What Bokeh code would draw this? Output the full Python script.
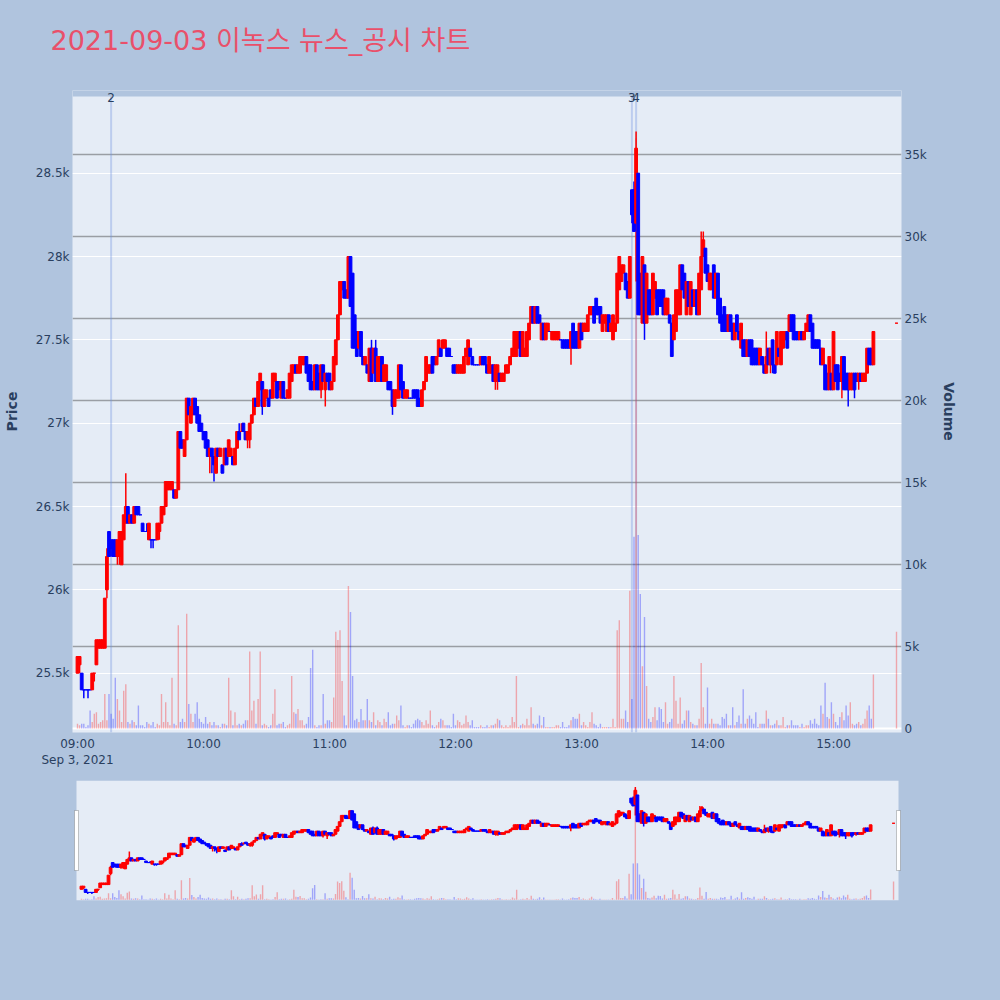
import math
import pandas as pd
from bokeh.plotting import figure
from bokeh.models import (Range1d, LinearAxis, FixedTicker, NumeralTickFormatter,
                          DatetimeTickFormatter, Grid, Span, Label, BoxAnnotation,
                          ColumnDataSource)
from bokeh.layouts import column
from bokeh.embed import file_html
from bokeh.resources import INLINE

TITLE = "2021-09-03 이녹스 뉴스_공시 차트"
SESSION_START = "2021-09-03 09:00"
N_REGULAR = 380
CLOSING_AUCTION = "2021-09-03 15:30"

opens = [
    25500, 25550, 25500, 25400, 25400, 25400, 25400, 25400, 25500, 25550,
    25650, 25650, 25650, 25650, 26000, 26350, 26300, 26300, 26300, 26200,
    26200, 26150, 26300, 26400, 26500, 26400, 26450, 26400, 26500, 26500,
    26450, 26400, 26350, 26350, 26300, 26300, 26300, 26300, 26300, 26350,
    26400, 26450, 26500, 26600, 26600, 26600, 26600, 26550, 26600, 26950,
    26900, 26800, 26900, 27150, 27000, 27050, 27150, 27100, 27050, 27000,
    26950, 26950, 26900, 26800, 26850, 26800, 26700, 26850, 26800, 26750,
    26750, 26850, 26800, 26800, 26800, 26750, 26850, 26950, 26950, 27000,
    26950, 26900, 26900, 27000, 27050, 27150, 27100, 27200, 27250, 27100,
    27150, 27150, 27200, 27150, 27250, 27250, 27250, 27150, 27250, 27150,
    27150, 27150, 27250, 27300, 27350, 27300, 27300, 27350, 27350, 27400,
    27350, 27350, 27250, 27200, 27350, 27300, 27200, 27350, 27200, 27300,
    27300, 27200, 27250, 27350, 27500, 27650, 27800, 27850, 27800, 27750,
    28000, 27900, 27650, 27550, 27450, 27550, 27400, 27350, 27350, 27250,
    27450, 27300, 27450, 27250, 27250, 27400, 27250, 27250, 27250, 27250,
    27200, 27100, 27150, 27150, 27350, 27250, 27150, 27150, 27150, 27150,
    27200, 27200, 27200, 27150, 27100, 27200, 27250, 27300, 27300, 27400,
    27400, 27350, 27400, 27450, 27450, 27450, 27450, 27450, 27400, 27350,
    27350, 27300, 27300, 27300, 27300, 27400, 27350, 27450, 27400, 27350,
    27350, 27350, 27350, 27400, 27400, 27350, 27300, 27300, 27350, 27250,
    27250, 27300, 27250, 27250, 27300, 27300, 27350, 27400, 27400, 27400,
    27450, 27550, 27400, 27400, 27400, 27500, 27600, 27700, 27600, 27700,
    27650, 27500, 27600, 27500, 27550, 27550, 27500, 27500, 27500, 27500,
    27500, 27500, 27500, 27500, 27500, 27450, 27600, 27550, 27550, 27450,
    27600, 27550, 27550, 27550, 27650, 27650, 27700, 27750, 27700, 27700,
    27550, 27600, 27550, 27650, 27550, 27500, 27550, 27600, 27800, 27850,
    27900, 27900, 27850, 27750, 28400, 28400, 28200, 28500, 27900, 27600,
    27950, 27600, 27800, 27800, 27650, 27750, 27800, 27800, 27800, 27800,
    27650, 27650, 27650, 27600, 27500, 27550, 27650, 27650, 27950, 27900,
    27650, 27850, 27650, 27800, 27700, 27800, 27650, 27800, 28000, 28050,
    27950, 27800, 27800, 27950, 27750, 27900, 27750, 27650, 27700, 27650,
    27550, 27650, 27600, 27500, 27650, 27550, 27450, 27500, 27500, 27400,
    27500, 27500, 27450, 27450, 27450, 27350, 27400, 27350, 27300, 27450,
    27350, 27500, 27350, 27350, 27450, 27350, 27450, 27500, 27550, 27550,
    27650, 27650, 27550, 27550, 27500, 27550, 27500, 27550, 27550, 27650,
    27600, 27500, 27500, 27500, 27450, 27350, 27350, 27300, 27200, 27300,
    27200, 27350, 27350, 27300, 27250, 27400, 27300, 27300, 27200, 27200,
    27300, 27300, 27250, 27300, 27250, 27250, 27300, 27450, 27450, 27350,
    27600,
]
highs = [
    25600, 25600, 25500, 25400, 25400, 25400, 25400, 25500, 25500, 25700,
    25700, 25700, 25700, 25950, 26250, 26350, 26300, 26300, 26300, 26300,
    26350, 26350, 26450, 26700, 26500, 26450, 26450, 26500, 26500, 26500,
    26450, 26400, 26350, 26400, 26400, 26300, 26300, 26300, 26400, 26400,
    26500, 26500, 26650, 26650, 26650, 26650, 26600, 26600, 26950, 26950,
    26900, 26900, 27150, 27150, 27100, 27150, 27150, 27100, 27050, 27000,
    26950, 26950, 26900, 26850, 26850, 26800, 26850, 26850, 26850, 26750,
    26850, 26850, 26900, 26850, 26800, 26850, 26950, 27000, 27000, 27000,
    26950, 26950, 27000, 27050, 27150, 27150, 27250, 27300, 27250, 27200,
    27200, 27150, 27200, 27300, 27300, 27250, 27250, 27250, 27250, 27150,
    27200, 27300, 27350, 27350, 27350, 27350, 27400, 27400, 27400, 27400,
    27350, 27350, 27250, 27350, 27350, 27300, 27350, 27350, 27300, 27300,
    27300, 27250, 27400, 27500, 27650, 27850, 27850, 27850, 27800, 28000,
    28000, 27900, 27650, 27550, 27550, 27550, 27400, 27400, 27350, 27450,
    27500, 27450, 27500, 27400, 27400, 27400, 27350, 27350, 27250, 27250,
    27200, 27200, 27200, 27350, 27350, 27250, 27200, 27200, 27150, 27150,
    27200, 27200, 27200, 27150, 27200, 27250, 27400, 27350, 27350, 27400,
    27400, 27400, 27500, 27450, 27500, 27500, 27450, 27450, 27400, 27350,
    27350, 27350, 27350, 27350, 27400, 27450, 27500, 27450, 27400, 27350,
    27350, 27350, 27400, 27400, 27400, 27350, 27400, 27350, 27350, 27350,
    27350, 27300, 27300, 27300, 27350, 27350, 27400, 27450, 27550, 27550,
    27550, 27550, 27550, 27450, 27550, 27600, 27700, 27700, 27700, 27700,
    27650, 27600, 27600, 27600, 27600, 27550, 27550, 27550, 27550, 27550,
    27500, 27500, 27500, 27500, 27500, 27550, 27600, 27550, 27550, 27600,
    27600, 27600, 27600, 27650, 27700, 27700, 27700, 27750, 27700, 27700,
    27650, 27650, 27650, 27650, 27600, 27650, 27600, 27900, 28000, 27950,
    27950, 27900, 27850, 28000, 28400, 28450, 28750, 28500, 27900, 28000,
    27950, 27900, 27800, 27800, 27900, 27850, 27800, 27800, 27800, 27800,
    27750, 27750, 27650, 27600, 27650, 27800, 27800, 27950, 27950, 27900,
    27850, 27850, 27850, 27800, 27800, 27800, 27900, 28150, 28150, 28050,
    27950, 27900, 27900, 27950, 27900, 27900, 27750, 27650, 27700, 27650,
    27650, 27650, 27600, 27600, 27650, 27550, 27600, 27500, 27500, 27500,
    27500, 27500, 27450, 27450, 27450, 27450, 27400, 27350, 27550, 27450,
    27450, 27500, 27350, 27550, 27450, 27550, 27550, 27550, 27550, 27650,
    27650, 27650, 27550, 27550, 27550, 27550, 27550, 27600, 27650, 27650,
    27600, 27500, 27500, 27500, 27450, 27450, 27350, 27300, 27400, 27300,
    27550, 27350, 27350, 27300, 27400, 27400, 27300, 27300, 27300, 27300,
    27300, 27300, 27300, 27300, 27300, 27300, 27450, 27450, 27450, 27550,
    27600,
]
lows = [
    25500, 25500, 25400, 25350, 25400, 25350, 25400, 25400, 25450, 25550,
    25650, 25650, 25650, 25650, 25950, 26200, 26200, 26200, 26200, 26150,
    26150, 26150, 26300, 26400, 26400, 26400, 26400, 26400, 26450, 26450,
    26450, 26350, 26350, 26350, 26300, 26250, 26250, 26300, 26300, 26300,
    26400, 26450, 26500, 26600, 26600, 26600, 26550, 26550, 26600, 26850,
    26850, 26800, 26900, 27050, 27000, 27050, 27050, 27000, 26950, 26950,
    26900, 26850, 26800, 26700, 26700, 26650, 26700, 26800, 26800, 26700,
    26750, 26750, 26800, 26800, 26750, 26750, 26850, 26900, 26950, 26950,
    26900, 26850, 26850, 27000, 27050, 27100, 27100, 27200, 27050, 27100,
    27150, 27100, 27150, 27150, 27250, 27150, 27200, 27150, 27150, 27150,
    27150, 27150, 27250, 27300, 27300, 27300, 27300, 27350, 27350, 27300,
    27250, 27200, 27200, 27200, 27200, 27200, 27150, 27250, 27100, 27250,
    27200, 27200, 27250, 27350, 27500, 27650, 27800, 27750, 27750, 27750,
    27700, 27450, 27450, 27400, 27450, 27400, 27350, 27350, 27300, 27250,
    27250, 27300, 27250, 27250, 27250, 27250, 27250, 27250, 27200, 27200,
    27050, 27100, 27150, 27150, 27200, 27150, 27150, 27150, 27150, 27150,
    27150, 27150, 27100, 27100, 27100, 27200, 27250, 27300, 27300, 27300,
    27350, 27350, 27400, 27400, 27450, 27450, 27400, 27400, 27400, 27300,
    27300, 27300, 27300, 27300, 27300, 27400, 27350, 27400, 27350, 27350,
    27350, 27350, 27350, 27350, 27350, 27300, 27300, 27300, 27250, 27200,
    27200, 27250, 27250, 27250, 27300, 27300, 27350, 27400, 27400, 27400,
    27450, 27400, 27400, 27400, 27400, 27500, 27600, 27600, 27600, 27600,
    27600, 27500, 27500, 27500, 27550, 27550, 27500, 27500, 27500, 27500,
    27500, 27450, 27450, 27450, 27450, 27350, 27450, 27450, 27450, 27450,
    27500, 27550, 27550, 27550, 27650, 27650, 27600, 27650, 27650, 27600,
    27550, 27600, 27550, 27550, 27550, 27500, 27550, 27600, 27800, 27850,
    27900, 27800, 27750, 27750, 28200, 28150, 27850, 27650, 27650, 27600,
    27500, 27600, 27650, 27650, 27650, 27750, 27650, 27700, 27700, 27650,
    27650, 27650, 27600, 27400, 27500, 27550, 27650, 27650, 27800, 27750,
    27650, 27700, 27650, 27700, 27700, 27650, 27650, 27800, 28000, 27900,
    27850, 27800, 27800, 27750, 27750, 27650, 27600, 27550, 27550, 27550,
    27550, 27550, 27500, 27500, 27550, 27500, 27450, 27400, 27400, 27400,
    27400, 27350, 27350, 27350, 27350, 27350, 27350, 27300, 27300, 27350,
    27300, 27300, 27300, 27350, 27400, 27350, 27450, 27500, 27450, 27550,
    27550, 27500, 27500, 27500, 27500, 27500, 27500, 27550, 27550, 27550,
    27450, 27450, 27450, 27450, 27350, 27350, 27200, 27200, 27200, 27200,
    27200, 27250, 27200, 27250, 27150, 27200, 27200, 27100, 27200, 27200,
    27150, 27250, 27200, 27250, 27250, 27250, 27300, 27350, 27350, 27350,
    27600,
]
closes = [
    25600, 25600, 25400, 25400, 25400, 25400, 25400, 25500, 25500, 25700,
    25700, 25700, 25700, 25950, 26200, 26200, 26250, 26200, 26200, 26300,
    26350, 26350, 26450, 26500, 26400, 26450, 26400, 26500, 26450, 26450,
    26450, 26350, 26350, 26350, 26400, 26300, 26300, 26300, 26400, 26400,
    26500, 26500, 26650, 26650, 26650, 26650, 26550, 26600, 26950, 26850,
    26850, 26900, 27150, 27050, 27100, 27150, 27050, 27000, 26950, 26950,
    26900, 26850, 26800, 26850, 26800, 26750, 26850, 26800, 26850, 26700,
    26850, 26750, 26900, 26850, 26750, 26850, 26950, 26900, 26950, 26950,
    26900, 26950, 27000, 27050, 27150, 27100, 27250, 27300, 27100, 27200,
    27200, 27100, 27150, 27300, 27300, 27150, 27200, 27250, 27150, 27150,
    27200, 27300, 27350, 27350, 27300, 27350, 27400, 27400, 27400, 27300,
    27250, 27200, 27200, 27350, 27200, 27200, 27350, 27250, 27300, 27250,
    27200, 27250, 27400, 27500, 27650, 27850, 27850, 27750, 27750, 28000,
    27700, 27450, 27450, 27400, 27550, 27400, 27350, 27400, 27300, 27450,
    27250, 27450, 27250, 27400, 27400, 27250, 27350, 27350, 27200, 27200,
    27100, 27200, 27200, 27350, 27200, 27150, 27200, 27200, 27150, 27150,
    27150, 27150, 27100, 27100, 27200, 27250, 27400, 27350, 27350, 27300,
    27350, 27400, 27500, 27400, 27500, 27500, 27400, 27400, 27400, 27300,
    27300, 27350, 27350, 27350, 27400, 27450, 27500, 27400, 27350, 27350,
    27350, 27350, 27400, 27350, 27350, 27300, 27400, 27350, 27250, 27350,
    27350, 27250, 27300, 27300, 27350, 27350, 27400, 27450, 27550, 27550,
    27550, 27400, 27550, 27450, 27550, 27600, 27700, 27600, 27700, 27600,
    27600, 27600, 27500, 27600, 27600, 27550, 27550, 27550, 27550, 27550,
    27500, 27450, 27450, 27450, 27450, 27550, 27450, 27450, 27450, 27600,
    27500, 27600, 27600, 27650, 27700, 27700, 27600, 27650, 27650, 27600,
    27650, 27650, 27650, 27550, 27600, 27650, 27600, 27900, 28000, 27950,
    27950, 27800, 27750, 28000, 28250, 28150, 28650, 27650, 27650, 28000,
    27600, 27900, 27650, 27650, 27900, 27850, 27650, 27700, 27700, 27650,
    27750, 27750, 27600, 27400, 27650, 27800, 27800, 27950, 27800, 27750,
    27850, 27700, 27850, 27700, 27800, 27650, 27900, 28000, 28100, 27900,
    27850, 27900, 27900, 27750, 27900, 27650, 27600, 27550, 27550, 27550,
    27650, 27550, 27500, 27600, 27550, 27500, 27600, 27400, 27400, 27500,
    27400, 27350, 27350, 27350, 27350, 27450, 27350, 27300, 27400, 27350,
    27450, 27350, 27300, 27550, 27400, 27550, 27550, 27550, 27450, 27650,
    27550, 27500, 27500, 27500, 27550, 27500, 27550, 27600, 27650, 27550,
    27450, 27450, 27450, 27450, 27350, 27450, 27200, 27200, 27400, 27200,
    27550, 27250, 27200, 27250, 27400, 27200, 27200, 27200, 27300, 27300,
    27200, 27250, 27300, 27250, 27300, 27300, 27450, 27350, 27350, 27550,
    27600,
]
volumes = [
    300, 200, 300, 300, 100, 200, 1100, 400, 900, 1000,
    300, 400, 500, 2100, 500, 2100, 900, 600, 3100, 1800,
    1100, 400, 2300, 2700, 400, 300, 500, 400, 200, 1400,
    200, 200, 100, 400, 300, 200, 400, 100, 300, 200,
    2100, 400, 1600, 400, 200, 3100, 300, 200, 6300, 400,
    600, 400, 7000, 1500, 900, 400, 900, 1600, 600, 400,
    300, 700, 300, 400, 200, 400, 200, 200, 100, 300,
    300, 200, 3100, 1100, 200, 1000, 200, 300, 200, 300,
    500, 500, 4700, 1100, 1700, 300, 1800, 4700, 200, 300,
    200, 100, 200, 900, 2400, 200, 300, 300, 400, 100,
    200, 300, 3200, 1000, 900, 1200, 500, 500, 200, 300,
    700, 3700, 4800, 200, 100, 200, 200, 2100, 300, 500,
    500, 400, 1900, 5900, 5400, 6000, 2900, 800, 200, 8700,
    7100, 3200, 500, 600, 400, 1200, 500, 500, 1800, 500,
    400, 1000, 200, 500, 400, 200, 600, 400, 1000, 200,
    300, 300, 800, 500, 1400, 200, 100, 200, 200, 100,
    300, 500, 600, 500, 400, 200, 500, 300, 1100, 200,
    100, 200, 400, 600, 500, 200, 200, 200, 100, 900,
    200, 500, 400, 200, 300, 800, 400, 200, 500, 100,
    100, 100, 200, 100, 100, 200, 100, 200, 200, 300,
    600, 500, 200, 100, 200, 100, 200, 700, 400, 3200,
    100, 200, 300, 200, 600, 200, 1300, 300, 200, 300,
    800, 200, 700, 100, 100, 100, 100, 100, 200, 200,
    100, 400, 100, 100, 200, 500, 700, 600, 600, 900,
    200, 400, 200, 100, 400, 1000, 300, 200, 100, 300,
    100, 100, 100, 100, 100, 600, 100, 6000, 6600, 600,
    600, 1100, 400, 8400, 1800, 11700, 36000, 11800, 8200, 3800,
    6800, 2600, 600, 400, 700, 1300, 500, 1300, 1200, 400,
    1600, 300, 400, 600, 3200, 1700, 300, 1900, 300, 500,
    1100, 1100, 400, 300, 200, 200, 600, 4000, 1300, 300,
    2500, 300, 600, 300, 300, 300, 200, 700, 600, 900,
    200, 200, 1300, 200, 400, 800, 300, 2400, 300, 600,
    800, 600, 300, 1000, 100, 300, 300, 300, 1100, 600,
    200, 200, 300, 500, 200, 200, 700, 100, 200, 200,
    500, 200, 200, 200, 100, 300, 100, 200, 200, 500,
    300, 600, 300, 200, 1400, 900, 2800, 700, 600, 1600,
    900, 400, 200, 700, 1000, 500, 1400, 800, 1600, 300,
    200, 300, 400, 200, 300, 600, 1100, 1400, 600, 3300,
    5900,
]

news_times = ["2021-09-03 09:16", "2021-09-03 13:24", "2021-09-03 13:26"]
news_labels = ["2", "3", "4"]
price_ticks = [25500, 26000, 26500, 27000, 27500, 28000, 28500]
volume_ticks = [0, 5000, 10000, 15000, 20000, 25000, 30000, 35000]
hour_ticks = ["2021-09-03 09:00", "2021-09-03 10:00", "2021-09-03 11:00",
              "2021-09-03 12:00", "2021-09-03 13:00", "2021-09-03 14:00",
              "2021-09-03 15:00"]

n = len(opens)
assert len(highs) == n and len(lows) == n and len(closes) == n and len(volumes) == n, \
    (len(opens), len(highs), len(lows), len(closes), len(volumes))
assert n == N_REGULAR + 1

# ---- style / layout (page pixels; Bokeh page has no body margin) ----
PAGE_W = 1000
PAGE_BG = "#B0C4DE"
PLOT_BG = "#E5ECF6"
INC = "#FF0000"
DEC = "#0000FF"
TXT = "#2a3f5f"
FONT = "'DejaVu Sans', 'Noto Sans CJK KR', sans-serif"
TITLE_COLOR = "#E9506A"

TITLE_H = 90            # title strip height (page y 0..90)
FRAME_L, FRAME_R = 72, 901
PLOT_TOP, FRAME_B = 96, 732
MAIN_BOTTOM = 778
PX_PER_MIN = 2.1
P_AT_TOP, P_AT_BOT = 28960, 25144   # price at page y 96 and 732
V_AT_BOT, V_PER_PX = -240, 1000 / 16.4


def ms(ts):
    return pd.Timestamp(ts).value / 1e6


times = list(pd.date_range(SESSION_START, periods=N_REGULAR, freq="min")) + [pd.Timestamp(CLOSING_AUCTION)]

colors = []
prev_dir, prev_close = 1, None
for o, c in zip(opens, closes):
    if c > o:
        d = 1
    elif c < o:
        d = -1
    elif prev_close is not None and c > prev_close:
        d = 1
    elif prev_close is not None and c < prev_close:
        d = -1
    else:
        d = prev_dir
    colors.append(INC if d > 0 else DEC)
    prev_dir, prev_close = d, c

src = ColumnDataSource(dict(
    t=times, o=opens, h=highs, l=lows, c=closes, v=volumes, color=colors,
    top=[max(a, b) for a, b in zip(opens, closes)],
    bot=[min(a, b) for a, b in zip(opens, closes)],
))

pad_ms = 5 / PX_PER_MIN * 60000
T0 = ms(SESSION_START) - pad_ms
T1 = ms(CLOSING_AUCTION) + pad_ms

P_PER_PX = (P_AT_TOP - P_AT_BOT) / (FRAME_B - PLOT_TOP)


def price_at(py):
    return P_AT_TOP - (py - PLOT_TOP) * P_PER_PX


P_HI = price_at(TITLE_H)
P_LO = P_AT_BOT
V_LO = V_AT_BOT
V_HI = V_AT_BOT + (FRAME_B - TITLE_H) * V_PER_PX

# ---- title strip ----
pt = figure(width=PAGE_W, height=TITLE_H, x_range=Range1d(0, PAGE_W), y_range=Range1d(TITLE_H, 0),
            x_axis_location=None, y_axis_location=None, toolbar_location=None,
            output_backend="svg", min_border=0)
pt.frame_align = False
pt.background_fill_color = PAGE_BG
pt.border_fill_color = PAGE_BG
pt.outline_line_color = None
pt.grid.visible = False
pt.add_layout(Label(x=50, y=40, text=TITLE, text_align="left", text_baseline="middle",
                    text_font=FONT, text_font_size="27px", text_color=TITLE_COLOR))

# ---- main figure ----
p = figure(width=PAGE_W, height=MAIN_BOTTOM - TITLE_H, x_axis_type="datetime",
           x_range=Range1d(T0, T1), y_range=Range1d(P_LO, P_HI),
           toolbar_location=None, output_backend="svg",
           min_border_left=FRAME_L, min_border_right=PAGE_W - FRAME_R,
           min_border_top=0, min_border_bottom=MAIN_BOTTOM - FRAME_B)
p.background_fill_color = PLOT_BG
p.border_fill_color = PAGE_BG
p.outline_line_color = None
p.extra_y_ranges = {"vol": Range1d(V_LO, V_HI)}


def style_axis(ax, standoff):
    ax.axis_line_color = None
    ax.major_tick_line_color = None
    ax.minor_tick_line_color = None
    ax.major_tick_out = 0
    ax.major_tick_in = 0
    ax.major_label_standoff = standoff
    ax.major_label_text_font = FONT
    ax.major_label_text_font_size = "12px"
    ax.major_label_text_color = TXT
    ax.axis_label_text_font = FONT
    ax.axis_label_text_font_size = "14px"
    ax.axis_label_text_font_style = "bold"
    ax.axis_label_text_color = TXT


xa = p.xaxis[0]
xa.ticker = FixedTicker(ticks=[ms(t) for t in hour_ticks])
xa.formatter = DatetimeTickFormatter(hours="%H:%M", hourmin="%H:%M", minutes="%H:%M",
                                     days="%H:%M", context="%b %-d, %Y",
                                     context_which="start", context_location="below")
style_axis(xa, 4)

ya = p.yaxis[0]
ya.ticker = FixedTicker(ticks=price_ticks)
ya.formatter = NumeralTickFormatter(format="0.[0]a")
style_axis(ya, 3)
ya.axis_label = "Price"
ya.axis_label_standoff = 13

va = LinearAxis(y_range_name="vol", ticker=FixedTicker(ticks=volume_ticks),
                formatter=NumeralTickFormatter(format="0.[0]a"))
style_axis(va, 3)
va.axis_label = "Volume"
va.axis_label_standoff = 11
p.add_layout(va, "right")

p.xgrid.visible = False
p.ygrid.ticker = FixedTicker(ticks=price_ticks)
p.ygrid.grid_line_color = "white"
p.ygrid.grid_line_width = 1

vgrid = Grid(dimension=1, ticker=FixedTicker(ticks=volume_ticks[1:]), y_range_name="vol",
             grid_line_color="#9a9ea4", grid_line_width=1.6)
p.add_layout(vgrid)
p.add_layout(Span(location=0, dimension="width", y_range_name="vol",
                  line_color="white", line_width=2, level="underlay"))

for t in news_times:
    p.add_layout(Span(location=ms(t), dimension="height", line_color="#6f92e0",
                      line_alpha=0.35, line_width=2, level="underlay"))

p.vbar(x="t", width=40000, top="v", bottom=0, fill_color="color", line_color=None,
       fill_alpha=0.3, y_range_name="vol", source=src)
p.segment(x0="t", y0="l", x1="t", y1="h", line_color="color", line_width=1.5, source=src)
p.vbar(x="t", width=80000, top="top", bottom="bot", fill_color="color",
       line_color="color", line_width=1, source=src)

# strip above the plotting area keeps the page colour (news labels sit on its edge)
p.add_layout(BoxAnnotation(bottom=price_at(PLOT_TOP), top=P_HI, fill_color=PAGE_BG,
                           fill_alpha=1, line_alpha=0, level="annotation"))
for t, lab in zip(news_times, news_labels):
    p.add_layout(Label(x=ms(t), y=price_at(97), text=lab, text_align="center",
                       text_baseline="middle", text_font=FONT, text_font_size="12px",
                       text_color=TXT))

# ---- range slider figure ----
SL_TOP, SL_BOT = 780, 900
SL_L, SL_R = 76, 898
s_ms_per_px = (T1 - T0) / (SL_R - SL_L)
S0 = T0 - (SL_L - FRAME_L) * s_ms_per_px
S1 = T1 + (FRAME_R - SL_R) * s_ms_per_px
p2 = figure(width=PAGE_W, height=990 - MAIN_BOTTOM, x_range=Range1d(S0, S1),
            y_range=Range1d(P_AT_BOT, P_AT_TOP),
            x_axis_location=None, y_axis_location=None,
            toolbar_location=None, output_backend="svg",
            min_border_left=FRAME_L, min_border_right=PAGE_W - FRAME_R,
            min_border_top=SL_TOP - MAIN_BOTTOM, min_border_bottom=990 - SL_BOT)
p2.frame_align = False
p2.background_fill_color = PAGE_BG
p2.border_fill_color = PAGE_BG
p2.outline_line_color = None
p2.grid.visible = False
p2.extra_y_ranges = {"vol": Range1d(V_AT_BOT, V_AT_BOT + (FRAME_B - PLOT_TOP) * V_PER_PX)}

p2.add_layout(BoxAnnotation(left=T0, right=T1, fill_color=PLOT_BG, fill_alpha=1,
                            line_alpha=0, level="underlay"))
p2.vbar(x="t", width=40000, top="v", bottom=0, fill_color="color", line_color=None,
        fill_alpha=0.3, y_range_name="vol", source=src)
p2.segment(x0="t", y0="l", x1="t", y1="h", line_color="color", line_width=1.5, source=src)
p2.vbar(x="t", width=80000, top="top", bottom="bot", fill_color="color",
        line_color="color", line_width=1, source=src)

s_price_per_px = (P_AT_TOP - P_AT_BOT) / (SL_BOT - SL_TOP)
h_bot = P_AT_BOT + (SL_BOT - 870) * s_price_per_px
h_top = P_AT_BOT + (SL_BOT - 810) * s_price_per_px
for edge in (T0, T1):
    p2.add_layout(BoxAnnotation(left=edge - 2 * s_ms_per_px, right=edge + 2 * s_ms_per_px,
                                bottom=h_bot, top=h_top, fill_color="white", fill_alpha=1,
                                line_color="#444444", line_width=1, level="overlay"))

layout = column(pt, p, p2)

TEMPLATE = """{% block preamble %}<style>html, body { background-color: #B0C4DE; }</style>{% endblock %}"""
open("out.html", "w").write(file_html(layout, INLINE, title="chart", template=TEMPLATE))
